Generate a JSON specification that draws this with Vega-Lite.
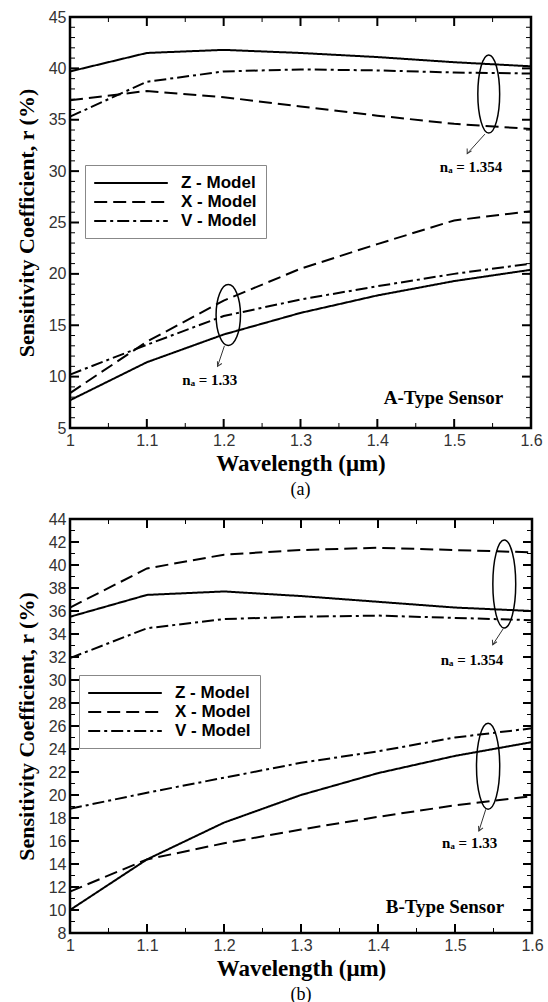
{
  "$schema": "https://vega.github.io/schema/vega-lite/v6.json",
  "background": "white",
  "padding": {"left": 13, "top": 7, "right": 5, "bottom": 5},
  "spacing": 8,
  "resolve": {"scale": {"strokeDash": "independent"}, "legend": {"strokeDash": "independent"}},
  "config": {
    "view": {"stroke": "black", "strokeWidth": 2.5},
    "axis": {"domain": false, "grid": false, "ticks": false, "labelOverlap": false, "labelFont": "Liberation Sans", "labelFontSize": 16, "labelColor": "#333", "titleFont": "Liberation Serif", "titleFontWeight": "bold", "titleColor": "black"},
    "legend": {"orient": "none", "title": null, "symbolType": "M -4.6 0 L 4.6 0", "symbolSize": 256, "symbolOffset": 28, "symbolStrokeWidth": 2, "symbolStrokeColor": "black", "labelFont": "Liberation Sans", "labelFontWeight": "bold", "labelFontSize": 17, "labelColor": "black", "labelOffset": 41, "strokeColor": "#888", "fillColor": "white", "padding": 9, "rowPadding": 2},
    "title": {"font": "Liberation Serif", "fontSize": 18, "fontWeight": "normal", "color": "black"}
  },
  "datasets": {
    "a": [
      {"w": 1.0, "r": 39.7, "model": "Z - Model", "na": "1.354"},
      {"w": 1.1, "r": 41.5, "model": "Z - Model", "na": "1.354"},
      {"w": 1.2, "r": 41.8, "model": "Z - Model", "na": "1.354"},
      {"w": 1.3, "r": 41.5, "model": "Z - Model", "na": "1.354"},
      {"w": 1.4, "r": 41.1, "model": "Z - Model", "na": "1.354"},
      {"w": 1.5, "r": 40.6, "model": "Z - Model", "na": "1.354"},
      {"w": 1.6, "r": 40.2, "model": "Z - Model", "na": "1.354"},
      {"w": 1.0, "r": 36.9, "model": "X - Model", "na": "1.354"},
      {"w": 1.1, "r": 37.8, "model": "X - Model", "na": "1.354"},
      {"w": 1.2, "r": 37.2, "model": "X - Model", "na": "1.354"},
      {"w": 1.3, "r": 36.3, "model": "X - Model", "na": "1.354"},
      {"w": 1.4, "r": 35.4, "model": "X - Model", "na": "1.354"},
      {"w": 1.5, "r": 34.6, "model": "X - Model", "na": "1.354"},
      {"w": 1.6, "r": 34.1, "model": "X - Model", "na": "1.354"},
      {"w": 1.0, "r": 35.3, "model": "V - Model", "na": "1.354"},
      {"w": 1.1, "r": 38.7, "model": "V - Model", "na": "1.354"},
      {"w": 1.2, "r": 39.7, "model": "V - Model", "na": "1.354"},
      {"w": 1.3, "r": 39.9, "model": "V - Model", "na": "1.354"},
      {"w": 1.4, "r": 39.8, "model": "V - Model", "na": "1.354"},
      {"w": 1.5, "r": 39.6, "model": "V - Model", "na": "1.354"},
      {"w": 1.6, "r": 39.5, "model": "V - Model", "na": "1.354"},
      {"w": 1.0, "r": 7.7, "model": "Z - Model", "na": "1.33"},
      {"w": 1.1, "r": 11.4, "model": "Z - Model", "na": "1.33"},
      {"w": 1.2, "r": 14.1, "model": "Z - Model", "na": "1.33"},
      {"w": 1.3, "r": 16.2, "model": "Z - Model", "na": "1.33"},
      {"w": 1.4, "r": 17.9, "model": "Z - Model", "na": "1.33"},
      {"w": 1.5, "r": 19.3, "model": "Z - Model", "na": "1.33"},
      {"w": 1.6, "r": 20.4, "model": "Z - Model", "na": "1.33"},
      {"w": 1.0, "r": 8.4, "model": "X - Model", "na": "1.33"},
      {"w": 1.1, "r": 13.4, "model": "X - Model", "na": "1.33"},
      {"w": 1.2, "r": 17.4, "model": "X - Model", "na": "1.33"},
      {"w": 1.3, "r": 20.5, "model": "X - Model", "na": "1.33"},
      {"w": 1.4, "r": 22.9, "model": "X - Model", "na": "1.33"},
      {"w": 1.5, "r": 25.2, "model": "X - Model", "na": "1.33"},
      {"w": 1.6, "r": 26.1, "model": "X - Model", "na": "1.33"},
      {"w": 1.0, "r": 10.2, "model": "V - Model", "na": "1.33"},
      {"w": 1.1, "r": 13.1, "model": "V - Model", "na": "1.33"},
      {"w": 1.2, "r": 15.9, "model": "V - Model", "na": "1.33"},
      {"w": 1.3, "r": 17.5, "model": "V - Model", "na": "1.33"},
      {"w": 1.4, "r": 18.8, "model": "V - Model", "na": "1.33"},
      {"w": 1.5, "r": 20.0, "model": "V - Model", "na": "1.33"},
      {"w": 1.6, "r": 21.0, "model": "V - Model", "na": "1.33"}
    ],
    "b": [
      {"w": 1.0, "r": 35.5, "model": "Z - Model", "na": "1.354"},
      {"w": 1.1, "r": 37.4, "model": "Z - Model", "na": "1.354"},
      {"w": 1.2, "r": 37.7, "model": "Z - Model", "na": "1.354"},
      {"w": 1.3, "r": 37.3, "model": "Z - Model", "na": "1.354"},
      {"w": 1.4, "r": 36.8, "model": "Z - Model", "na": "1.354"},
      {"w": 1.5, "r": 36.3, "model": "Z - Model", "na": "1.354"},
      {"w": 1.6, "r": 36.0, "model": "Z - Model", "na": "1.354"},
      {"w": 1.0, "r": 36.3, "model": "X - Model", "na": "1.354"},
      {"w": 1.1, "r": 39.7, "model": "X - Model", "na": "1.354"},
      {"w": 1.2, "r": 40.9, "model": "X - Model", "na": "1.354"},
      {"w": 1.3, "r": 41.3, "model": "X - Model", "na": "1.354"},
      {"w": 1.4, "r": 41.5, "model": "X - Model", "na": "1.354"},
      {"w": 1.5, "r": 41.3, "model": "X - Model", "na": "1.354"},
      {"w": 1.6, "r": 41.1, "model": "X - Model", "na": "1.354"},
      {"w": 1.0, "r": 31.9, "model": "V - Model", "na": "1.354"},
      {"w": 1.1, "r": 34.5, "model": "V - Model", "na": "1.354"},
      {"w": 1.2, "r": 35.3, "model": "V - Model", "na": "1.354"},
      {"w": 1.3, "r": 35.5, "model": "V - Model", "na": "1.354"},
      {"w": 1.4, "r": 35.6, "model": "V - Model", "na": "1.354"},
      {"w": 1.5, "r": 35.4, "model": "V - Model", "na": "1.354"},
      {"w": 1.6, "r": 35.2, "model": "V - Model", "na": "1.354"},
      {"w": 1.0, "r": 10.0, "model": "Z - Model", "na": "1.33"},
      {"w": 1.1, "r": 14.4, "model": "Z - Model", "na": "1.33"},
      {"w": 1.2, "r": 17.6, "model": "Z - Model", "na": "1.33"},
      {"w": 1.3, "r": 20.0, "model": "Z - Model", "na": "1.33"},
      {"w": 1.4, "r": 21.9, "model": "Z - Model", "na": "1.33"},
      {"w": 1.5, "r": 23.4, "model": "Z - Model", "na": "1.33"},
      {"w": 1.6, "r": 24.6, "model": "Z - Model", "na": "1.33"},
      {"w": 1.0, "r": 11.6, "model": "X - Model", "na": "1.33"},
      {"w": 1.1, "r": 14.4, "model": "X - Model", "na": "1.33"},
      {"w": 1.2, "r": 15.8, "model": "X - Model", "na": "1.33"},
      {"w": 1.3, "r": 17.0, "model": "X - Model", "na": "1.33"},
      {"w": 1.4, "r": 18.1, "model": "X - Model", "na": "1.33"},
      {"w": 1.5, "r": 19.1, "model": "X - Model", "na": "1.33"},
      {"w": 1.6, "r": 19.9, "model": "X - Model", "na": "1.33"},
      {"w": 1.0, "r": 18.8, "model": "V - Model", "na": "1.33"},
      {"w": 1.1, "r": 20.2, "model": "V - Model", "na": "1.33"},
      {"w": 1.2, "r": 21.5, "model": "V - Model", "na": "1.33"},
      {"w": 1.3, "r": 22.8, "model": "V - Model", "na": "1.33"},
      {"w": 1.4, "r": 23.8, "model": "V - Model", "na": "1.33"},
      {"w": 1.5, "r": 25.0, "model": "V - Model", "na": "1.33"},
      {"w": 1.6, "r": 25.8, "model": "V - Model", "na": "1.33"}
    ],
    "annA": [
      {"kind": "ellipse", "na": "1.354", "x": 1.545, "y": 37.5},
      {"kind": "ellipse", "na": "1.33", "x": 1.206, "y": 16.0},
      {"kind": "arrow", "na": "1.354", "x": 1.540, "y": 33.6, "x2": 1.517, "y2": 31.7},
      {"kind": "arrow", "na": "1.33", "x": 1.201, "y": 13.0, "x2": 1.192, "y2": 11.0},
      {"kind": "label", "na": "1.354", "x": 1.522, "y": 30.4, "text": "nₐ = 1.354"},
      {"kind": "label", "na": "1.33", "x": 1.182, "y": 9.7, "text": "nₐ = 1.33"},
      {"kind": "sensor", "x": 1.486, "y": 7.9, "text": "A-Type Sensor"}
    ],
    "annB": [
      {"kind": "ellipse", "na": "1.354", "x": 1.564, "y": 38.35},
      {"kind": "ellipse", "na": "1.33", "x": 1.543, "y": 22.5},
      {"kind": "arrow", "na": "1.354", "x": 1.563, "y": 34.5, "x2": 1.549, "y2": 33.06},
      {"kind": "arrow", "na": "1.33", "x": 1.540, "y": 18.76, "x2": 1.531, "y2": 16.87},
      {"kind": "label", "na": "1.354", "x": 1.522, "y": 31.75, "text": "nₐ = 1.354"},
      {"kind": "label", "na": "1.33", "x": 1.519, "y": 15.85, "text": "nₐ = 1.33"},
      {"kind": "sensor", "x": 1.487, "y": 10.3, "text": "B-Type Sensor"}
    ],
    "xtA": [
      {"w": 1.05, "r": 5}, {"w": 1.1, "r": 5}, {"w": 1.15, "r": 5}, {"w": 1.2, "r": 5}, {"w": 1.25, "r": 5}, {"w": 1.3, "r": 5},
      {"w": 1.35, "r": 5}, {"w": 1.4, "r": 5}, {"w": 1.45, "r": 5}, {"w": 1.5, "r": 5}, {"w": 1.55, "r": 5},
      {"w": 1.05, "r": 45}, {"w": 1.1, "r": 45}, {"w": 1.15, "r": 45}, {"w": 1.2, "r": 45}, {"w": 1.25, "r": 45}, {"w": 1.3, "r": 45},
      {"w": 1.35, "r": 45}, {"w": 1.4, "r": 45}, {"w": 1.45, "r": 45}, {"w": 1.5, "r": 45}, {"w": 1.55, "r": 45}
    ],
    "ytA": [
      {"w": 1, "r": 6}, {"w": 1, "r": 7}, {"w": 1, "r": 8}, {"w": 1, "r": 9}, {"w": 1, "r": 10}, {"w": 1, "r": 11}, {"w": 1, "r": 12}, {"w": 1, "r": 13},
      {"w": 1, "r": 14}, {"w": 1, "r": 15}, {"w": 1, "r": 16}, {"w": 1, "r": 17}, {"w": 1, "r": 18}, {"w": 1, "r": 19}, {"w": 1, "r": 20}, {"w": 1, "r": 21},
      {"w": 1, "r": 22}, {"w": 1, "r": 23}, {"w": 1, "r": 24}, {"w": 1, "r": 25}, {"w": 1, "r": 26}, {"w": 1, "r": 27}, {"w": 1, "r": 28}, {"w": 1, "r": 29},
      {"w": 1, "r": 30}, {"w": 1, "r": 31}, {"w": 1, "r": 32}, {"w": 1, "r": 33}, {"w": 1, "r": 34}, {"w": 1, "r": 35}, {"w": 1, "r": 36}, {"w": 1, "r": 37},
      {"w": 1, "r": 38}, {"w": 1, "r": 39}, {"w": 1, "r": 40}, {"w": 1, "r": 41}, {"w": 1, "r": 42}, {"w": 1, "r": 43}, {"w": 1, "r": 44},
      {"w": 1.6, "r": 6}, {"w": 1.6, "r": 7}, {"w": 1.6, "r": 8}, {"w": 1.6, "r": 9}, {"w": 1.6, "r": 10}, {"w": 1.6, "r": 11}, {"w": 1.6, "r": 12}, {"w": 1.6, "r": 13},
      {"w": 1.6, "r": 14}, {"w": 1.6, "r": 15}, {"w": 1.6, "r": 16}, {"w": 1.6, "r": 17}, {"w": 1.6, "r": 18}, {"w": 1.6, "r": 19}, {"w": 1.6, "r": 20}, {"w": 1.6, "r": 21},
      {"w": 1.6, "r": 22}, {"w": 1.6, "r": 23}, {"w": 1.6, "r": 24}, {"w": 1.6, "r": 25}, {"w": 1.6, "r": 26}, {"w": 1.6, "r": 27}, {"w": 1.6, "r": 28}, {"w": 1.6, "r": 29},
      {"w": 1.6, "r": 30}, {"w": 1.6, "r": 31}, {"w": 1.6, "r": 32}, {"w": 1.6, "r": 33}, {"w": 1.6, "r": 34}, {"w": 1.6, "r": 35}, {"w": 1.6, "r": 36}, {"w": 1.6, "r": 37},
      {"w": 1.6, "r": 38}, {"w": 1.6, "r": 39}, {"w": 1.6, "r": 40}, {"w": 1.6, "r": 41}, {"w": 1.6, "r": 42}, {"w": 1.6, "r": 43}, {"w": 1.6, "r": 44}
    ],
    "xtB": [
      {"w": 1.05, "r": 8}, {"w": 1.1, "r": 8}, {"w": 1.15, "r": 8}, {"w": 1.2, "r": 8}, {"w": 1.25, "r": 8}, {"w": 1.3, "r": 8},
      {"w": 1.35, "r": 8}, {"w": 1.4, "r": 8}, {"w": 1.45, "r": 8}, {"w": 1.5, "r": 8}, {"w": 1.55, "r": 8},
      {"w": 1.05, "r": 44}, {"w": 1.1, "r": 44}, {"w": 1.15, "r": 44}, {"w": 1.2, "r": 44}, {"w": 1.25, "r": 44}, {"w": 1.3, "r": 44},
      {"w": 1.35, "r": 44}, {"w": 1.4, "r": 44}, {"w": 1.45, "r": 44}, {"w": 1.5, "r": 44}, {"w": 1.55, "r": 44}
    ],
    "ytB": [
      {"w": 1, "r": 9}, {"w": 1, "r": 10}, {"w": 1, "r": 11}, {"w": 1, "r": 12}, {"w": 1, "r": 13}, {"w": 1, "r": 14}, {"w": 1, "r": 15}, {"w": 1, "r": 16},
      {"w": 1, "r": 17}, {"w": 1, "r": 18}, {"w": 1, "r": 19}, {"w": 1, "r": 20}, {"w": 1, "r": 21}, {"w": 1, "r": 22}, {"w": 1, "r": 23}, {"w": 1, "r": 24},
      {"w": 1, "r": 25}, {"w": 1, "r": 26}, {"w": 1, "r": 27}, {"w": 1, "r": 28}, {"w": 1, "r": 29}, {"w": 1, "r": 30}, {"w": 1, "r": 31}, {"w": 1, "r": 32},
      {"w": 1, "r": 33}, {"w": 1, "r": 34}, {"w": 1, "r": 35}, {"w": 1, "r": 36}, {"w": 1, "r": 37}, {"w": 1, "r": 38}, {"w": 1, "r": 39}, {"w": 1, "r": 40},
      {"w": 1, "r": 41}, {"w": 1, "r": 42}, {"w": 1, "r": 43},
      {"w": 1.6, "r": 9}, {"w": 1.6, "r": 10}, {"w": 1.6, "r": 11}, {"w": 1.6, "r": 12}, {"w": 1.6, "r": 13}, {"w": 1.6, "r": 14}, {"w": 1.6, "r": 15}, {"w": 1.6, "r": 16},
      {"w": 1.6, "r": 17}, {"w": 1.6, "r": 18}, {"w": 1.6, "r": 19}, {"w": 1.6, "r": 20}, {"w": 1.6, "r": 21}, {"w": 1.6, "r": 22}, {"w": 1.6, "r": 23}, {"w": 1.6, "r": 24},
      {"w": 1.6, "r": 25}, {"w": 1.6, "r": 26}, {"w": 1.6, "r": 27}, {"w": 1.6, "r": 28}, {"w": 1.6, "r": 29}, {"w": 1.6, "r": 30}, {"w": 1.6, "r": 31}, {"w": 1.6, "r": 32},
      {"w": 1.6, "r": 33}, {"w": 1.6, "r": 34}, {"w": 1.6, "r": 35}, {"w": 1.6, "r": 36}, {"w": 1.6, "r": 37}, {"w": 1.6, "r": 38}, {"w": 1.6, "r": 39}, {"w": 1.6, "r": 40},
      {"w": 1.6, "r": 41}, {"w": 1.6, "r": 42}, {"w": 1.6, "r": 43}
    ]
  },
  "vconcat": [
    {
      "width": 461,
      "height": 411,
      "title": {"text": "(a)", "orient": "bottom", "offset": 6},
      "resolve": {"axis": {"x": "independent", "y": "independent"}},
      "layer": [
        {
          "data": {"name": "a"},
          "mark": {"type": "line", "color": "black", "strokeWidth": 2},
          "encoding": {
            "x": {"field": "w", "type": "quantitative", "scale": {"domain": [1, 1.6], "nice": false, "zero": false},
              "axis": {"orient": "bottom", "values": [1, 1.1, 1.2, 1.3, 1.4, 1.5, 1.6], "labelExpr": "'' + datum.value", "labelPadding": 4, "labelFlush": false, "title": "Wavelength (μm)", "titleFontSize": 23, "titlePadding": 4}},
            "y": {"field": "r", "type": "quantitative", "scale": {"domain": [5, 45], "nice": false, "zero": false},
              "axis": {"orient": "left", "values": [5, 10, 15, 20, 25, 30, 35, 40, 45], "labelPadding": 4, "title": "Sensitivity Coefficient, r (%)", "titleFontSize": 22, "titlePadding": 10}},
            "detail": {"field": "na"},
            "strokeDash": {"field": "model", "type": "nominal",
              "scale": {"domain": ["Z - Model", "X - Model", "V - Model"], "range": [[1, 0], [13, 6], [12, 4, 3, 4]]},
              "legend": {"legendX": 15, "legendY": 148}}
          }
        },
        {
          "data": {"name": "xtA"},
          "transform": [{"filter": "datum.r == 5 && round(datum.w*20) % 2 == 0"}],
          "mark": {"type": "rule", "color": "black", "strokeWidth": 2, "y2Offset": -9},
          "encoding": {"x": {"field": "w", "type": "quantitative", "axis": null}, "y": {"field": "r", "type": "quantitative", "axis": null}, "y2": {"field": "r"}}
        },
        {
          "data": {"name": "xtA"},
          "transform": [{"filter": "datum.r == 5 && round(datum.w*20) % 2 == 1"}],
          "mark": {"type": "rule", "color": "black", "strokeWidth": 1, "y2Offset": -5},
          "encoding": {"x": {"field": "w", "type": "quantitative", "axis": null}, "y": {"field": "r", "type": "quantitative", "axis": null}, "y2": {"field": "r"}}
        },
        {
          "data": {"name": "xtA"},
          "transform": [{"filter": "datum.r == 45 && round(datum.w*20) % 2 == 0"}],
          "mark": {"type": "rule", "color": "black", "strokeWidth": 2, "y2Offset": 9},
          "encoding": {"x": {"field": "w", "type": "quantitative", "axis": null}, "y": {"field": "r", "type": "quantitative", "axis": null}, "y2": {"field": "r"}}
        },
        {
          "data": {"name": "xtA"},
          "transform": [{"filter": "datum.r == 45 && round(datum.w*20) % 2 == 1"}],
          "mark": {"type": "rule", "color": "black", "strokeWidth": 1, "y2Offset": 5},
          "encoding": {"x": {"field": "w", "type": "quantitative", "axis": null}, "y": {"field": "r", "type": "quantitative", "axis": null}, "y2": {"field": "r"}}
        },
        {
          "data": {"name": "ytA"},
          "transform": [{"filter": "datum.w == 1 && datum.r % 5 == 0"}],
          "mark": {"type": "rule", "color": "black", "strokeWidth": 2, "x2Offset": 9},
          "encoding": {"x": {"field": "w", "type": "quantitative", "axis": null}, "x2": {"field": "w"}, "y": {"field": "r", "type": "quantitative", "axis": null}}
        },
        {
          "data": {"name": "ytA"},
          "transform": [{"filter": "datum.w == 1 && datum.r % 5 != 0"}],
          "mark": {"type": "rule", "color": "black", "strokeWidth": 1, "x2Offset": 5},
          "encoding": {"x": {"field": "w", "type": "quantitative", "axis": null}, "x2": {"field": "w"}, "y": {"field": "r", "type": "quantitative", "axis": null}}
        },
        {
          "data": {"name": "ytA"},
          "transform": [{"filter": "datum.w == 1.6 && datum.r % 5 == 0"}],
          "mark": {"type": "rule", "color": "black", "strokeWidth": 2, "x2Offset": -9},
          "encoding": {"x": {"field": "w", "type": "quantitative", "axis": null}, "x2": {"field": "w"}, "y": {"field": "r", "type": "quantitative", "axis": null}}
        },
        {
          "data": {"name": "ytA"},
          "transform": [{"filter": "datum.w == 1.6 && datum.r % 5 != 0"}],
          "mark": {"type": "rule", "color": "black", "strokeWidth": 1, "x2Offset": -5},
          "encoding": {"x": {"field": "w", "type": "quantitative", "axis": null}, "x2": {"field": "w"}, "y": {"field": "r", "type": "quantitative", "axis": null}}
        },
        {
          "data": {"name": "annA"},
          "transform": [{"filter": "datum.kind == 'ellipse' && datum.na == '1.354'"}],
          "mark": {"type": "point", "shape": "M 0 -1 A 0.28 1 0 1 1 0 1 A 0.28 1 0 1 1 0 -1", "size": 6084, "filled": false, "stroke": "black", "strokeWidth": 1.5, "opacity": 1},
          "encoding": {"x": {"field": "x", "type": "quantitative", "axis": null}, "y": {"field": "y", "type": "quantitative", "axis": null}}
        },
        {
          "data": {"name": "annA"},
          "transform": [{"filter": "datum.kind == 'ellipse' && datum.na == '1.33'"}],
          "mark": {"type": "point", "shape": "M 0 -1 A 0.4 1 0 1 1 0 1 A 0.4 1 0 1 1 0 -1", "size": 3721, "filled": false, "stroke": "black", "strokeWidth": 1.5, "opacity": 1},
          "encoding": {"x": {"field": "x", "type": "quantitative", "axis": null}, "y": {"field": "y", "type": "quantitative", "axis": null}}
        },
        {
          "data": {"name": "annA"},
          "transform": [{"filter": "datum.kind == 'arrow'"}],
          "mark": {"type": "rule", "color": "#333", "strokeWidth": 1},
          "encoding": {
            "x": {"field": "x", "type": "quantitative", "axis": null},
            "y": {"field": "y", "type": "quantitative", "axis": null},
            "x2": {"field": "x2"},
            "y2": {"field": "y2"}
          }
        },
        {
          "data": {"name": "annA"},
          "transform": [{"filter": "datum.kind == 'arrow'"}],
          "mark": {"type": "point", "shape": "M -0.55 -1 L 0 0 L 0.55 -1", "size": 81, "filled": false, "stroke": "#333", "strokeWidth": 1, "angle": 28, "opacity": 1},
          "encoding": {"x": {"field": "x2", "type": "quantitative", "axis": null}, "y": {"field": "y2", "type": "quantitative", "axis": null}}
        },
        {
          "data": {"name": "annA"},
          "transform": [{"filter": "datum.kind == 'label'"}],
          "mark": {"type": "text", "font": "Liberation Serif", "fontWeight": "bold", "fontSize": 15, "color": "black"},
          "encoding": {"x": {"field": "x", "type": "quantitative", "axis": null}, "y": {"field": "y", "type": "quantitative", "axis": null}, "text": {"field": "text"}}
        },
        {
          "data": {"name": "annA"},
          "transform": [{"filter": "datum.kind == 'sensor'"}],
          "mark": {"type": "text", "font": "Liberation Serif", "fontWeight": "bold", "fontSize": 19, "color": "black"},
          "encoding": {"x": {"field": "x", "type": "quantitative", "axis": null}, "y": {"field": "y", "type": "quantitative", "axis": null}, "text": {"field": "text"}}
        }
      ]
    },
    {
      "width": 462,
      "height": 414,
      "title": {"text": "(b)", "orient": "bottom", "offset": 6},
      "resolve": {"axis": {"x": "independent", "y": "independent"}},
      "layer": [
        {
          "data": {"name": "b"},
          "mark": {"type": "line", "color": "black", "strokeWidth": 2},
          "encoding": {
            "x": {"field": "w", "type": "quantitative", "scale": {"domain": [1, 1.6], "nice": false, "zero": false},
              "axis": {"orient": "bottom", "values": [1, 1.1, 1.2, 1.3, 1.4, 1.5, 1.6], "labelExpr": "'' + datum.value", "labelPadding": 4, "labelFlush": false, "title": "Wavelength (μm)", "titleFontSize": 23, "titlePadding": 4}},
            "y": {"field": "r", "type": "quantitative", "scale": {"domain": [8, 44], "nice": false, "zero": false},
              "axis": {"orient": "left", "values": [8,10,12,14,16,18,20,22,24,26,28,30,32,34,36,38,40,42,44], "labelPadding": 4, "title": "Sensitivity Coefficient, r (%)", "titleFontSize": 22, "titlePadding": 10}},
            "detail": {"field": "na"},
            "strokeDash": {"field": "model", "type": "nominal",
              "scale": {"domain": ["Z - Model", "X - Model", "V - Model"], "range": [[1, 0], [13, 6], [12, 4, 3, 4]]},
              "legend": {"legendX": 9, "legendY": 156}}
          }
        },
        {
          "data": {"name": "xtB"},
          "transform": [{"filter": "datum.r == 8 && round(datum.w*20) % 2 == 0"}],
          "mark": {"type": "rule", "color": "black", "strokeWidth": 2, "y2Offset": -9},
          "encoding": {"x": {"field": "w", "type": "quantitative", "axis": null}, "y": {"field": "r", "type": "quantitative", "axis": null}, "y2": {"field": "r"}}
        },
        {
          "data": {"name": "xtB"},
          "transform": [{"filter": "datum.r == 8 && round(datum.w*20) % 2 == 1"}],
          "mark": {"type": "rule", "color": "black", "strokeWidth": 1, "y2Offset": -5},
          "encoding": {"x": {"field": "w", "type": "quantitative", "axis": null}, "y": {"field": "r", "type": "quantitative", "axis": null}, "y2": {"field": "r"}}
        },
        {
          "data": {"name": "xtB"},
          "transform": [{"filter": "datum.r == 44 && round(datum.w*20) % 2 == 0"}],
          "mark": {"type": "rule", "color": "black", "strokeWidth": 2, "y2Offset": 9},
          "encoding": {"x": {"field": "w", "type": "quantitative", "axis": null}, "y": {"field": "r", "type": "quantitative", "axis": null}, "y2": {"field": "r"}}
        },
        {
          "data": {"name": "xtB"},
          "transform": [{"filter": "datum.r == 44 && round(datum.w*20) % 2 == 1"}],
          "mark": {"type": "rule", "color": "black", "strokeWidth": 1, "y2Offset": 5},
          "encoding": {"x": {"field": "w", "type": "quantitative", "axis": null}, "y": {"field": "r", "type": "quantitative", "axis": null}, "y2": {"field": "r"}}
        },
        {
          "data": {"name": "ytB"},
          "transform": [{"filter": "datum.w == 1 && datum.r % 2 == 0"}],
          "mark": {"type": "rule", "color": "black", "strokeWidth": 2, "x2Offset": 9},
          "encoding": {"x": {"field": "w", "type": "quantitative", "axis": null}, "x2": {"field": "w"}, "y": {"field": "r", "type": "quantitative", "axis": null}}
        },
        {
          "data": {"name": "ytB"},
          "transform": [{"filter": "datum.w == 1 && datum.r % 2 != 0"}],
          "mark": {"type": "rule", "color": "black", "strokeWidth": 1, "x2Offset": 5},
          "encoding": {"x": {"field": "w", "type": "quantitative", "axis": null}, "x2": {"field": "w"}, "y": {"field": "r", "type": "quantitative", "axis": null}}
        },
        {
          "data": {"name": "ytB"},
          "transform": [{"filter": "datum.w == 1.6 && datum.r % 2 == 0"}],
          "mark": {"type": "rule", "color": "black", "strokeWidth": 2, "x2Offset": -9},
          "encoding": {"x": {"field": "w", "type": "quantitative", "axis": null}, "x2": {"field": "w"}, "y": {"field": "r", "type": "quantitative", "axis": null}}
        },
        {
          "data": {"name": "ytB"},
          "transform": [{"filter": "datum.w == 1.6 && datum.r % 2 != 0"}],
          "mark": {"type": "rule", "color": "black", "strokeWidth": 1, "x2Offset": -5},
          "encoding": {"x": {"field": "w", "type": "quantitative", "axis": null}, "x2": {"field": "w"}, "y": {"field": "r", "type": "quantitative", "axis": null}}
        },
        {
          "data": {"name": "annB"},
          "transform": [{"filter": "datum.kind == 'ellipse' && datum.na == '1.354'"}],
          "mark": {"type": "point", "shape": "M 0 -1 A 0.26 1 0 1 1 0 1 A 0.26 1 0 1 1 0 -1", "size": 7744, "filled": false, "stroke": "black", "strokeWidth": 1.5, "opacity": 1},
          "encoding": {"x": {"field": "x", "type": "quantitative", "axis": null}, "y": {"field": "y", "type": "quantitative", "axis": null}}
        },
        {
          "data": {"name": "annB"},
          "transform": [{"filter": "datum.kind == 'ellipse' && datum.na == '1.33'"}],
          "mark": {"type": "point", "shape": "M 0 -1 A 0.27 1 0 1 1 0 1 A 0.27 1 0 1 1 0 -1", "size": 7396, "filled": false, "stroke": "black", "strokeWidth": 1.5, "opacity": 1},
          "encoding": {"x": {"field": "x", "type": "quantitative", "axis": null}, "y": {"field": "y", "type": "quantitative", "axis": null}}
        },
        {
          "data": {"name": "annB"},
          "transform": [{"filter": "datum.kind == 'arrow'"}],
          "mark": {"type": "rule", "color": "#333", "strokeWidth": 1},
          "encoding": {
            "x": {"field": "x", "type": "quantitative", "axis": null},
            "y": {"field": "y", "type": "quantitative", "axis": null},
            "x2": {"field": "x2"},
            "y2": {"field": "y2"}
          }
        },
        {
          "data": {"name": "annB"},
          "transform": [{"filter": "datum.kind == 'arrow'"}],
          "mark": {"type": "point", "shape": "M -0.55 -1 L 0 0 L 0.55 -1", "size": 81, "filled": false, "stroke": "#333", "strokeWidth": 1, "angle": 25, "opacity": 1},
          "encoding": {"x": {"field": "x2", "type": "quantitative", "axis": null}, "y": {"field": "y2", "type": "quantitative", "axis": null}}
        },
        {
          "data": {"name": "annB"},
          "transform": [{"filter": "datum.kind == 'label'"}],
          "mark": {"type": "text", "font": "Liberation Serif", "fontWeight": "bold", "fontSize": 15, "color": "black"},
          "encoding": {"x": {"field": "x", "type": "quantitative", "axis": null}, "y": {"field": "y", "type": "quantitative", "axis": null}, "text": {"field": "text"}}
        },
        {
          "data": {"name": "annB"},
          "transform": [{"filter": "datum.kind == 'sensor'"}],
          "mark": {"type": "text", "font": "Liberation Serif", "fontWeight": "bold", "fontSize": 19, "color": "black"},
          "encoding": {"x": {"field": "x", "type": "quantitative", "axis": null}, "y": {"field": "y", "type": "quantitative", "axis": null}, "text": {"field": "text"}}
        }
      ]
    }
  ]
}
